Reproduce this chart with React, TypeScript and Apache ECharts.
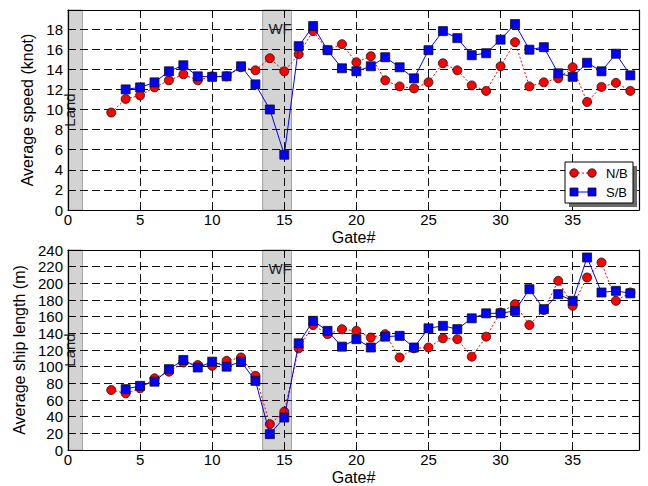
import React, { useEffect, useRef } from 'react';
import * as echarts from 'echarts';

const nbGates = [3, 4, 5, 6, 7, 8, 9, 10, 11, 12, 13, 14, 15, 16, 17, 18, 19, 20, 21, 22, 23, 24, 25, 26, 27, 28, 29, 30, 31, 32, 33, 34, 35, 36, 37, 38, 39];
const sbGates = [4, 5, 6, 7, 8, 9, 10, 11, 12, 13, 14, 15, 16, 17, 18, 19, 20, 21, 22, 23, 24, 25, 26, 27, 28, 29, 30, 31, 32, 33, 34, 35, 36, 37, 38, 39];

const nbSpeed = [9.7, 11.05, 11.4, 12.2, 12.9, 13.5, 12.9, 13.3, 13.3, 14.2, 13.9, 15.1, 13.8, 15.5, 17.8, 15.9, 16.5, 14.7, 15.3, 12.9, 12.3, 12.1, 12.7, 14.6, 13.9, 12.4, 11.85, 14.3, 16.7, 12.3, 12.7, 13.1, 14.2, 10.75, 12.25, 12.65, 11.85];
const sbSpeed = [12.0, 12.2, 12.7, 13.8, 14.4, 13.3, 13.25, 13.3, 14.3, 12.5, 10.0, 5.5, 16.3, 18.3, 15.9, 14.1, 13.8, 14.3, 15.2, 14.2, 13.1, 15.9, 17.8, 17.1, 15.4, 15.6, 16.95, 18.5, 15.95, 16.2, 13.6, 13.25, 14.65, 13.8, 15.55, 13.4];

const nbLength = [72, 68, 74, 86, 94, 105, 102, 101, 107, 111, 89, 31, 46, 122, 150, 139, 145, 143, 135, 139, 111, 122, 123, 134, 133, 112, 136, 165, 175, 150, 168, 203, 173, 207, 225, 179, 189];
const sbLength = [73, 77, 82, 97, 108, 99, 106, 100, 106, 83, 19, 39, 128, 155, 143, 124, 133, 123, 136, 137, 123, 146, 149, 145, 158, 164, 164, 167, 193, 169, 187, 179, 231, 189, 191, 188];

const seriesNames = ['N/B', 'S/B'];
const bands = [
  { name: 'Land', from: 0, to: 1 },
  { name: 'WF', from: 13.5, to: 15.5 },
];

const X_MAX = 39.6;
const FONT = 'Liberation Sans, Arial, Helvetica, sans-serif';

const pair = (xs: number[], ys: number[]) => xs.map((x, i) => [x, ys[i]]);

function bandArea() {
  return {
    silent: true,
    z: 1,
    itemStyle: { color: '#d3d3d3', borderColor: '#a0a0a0', borderWidth: 1 },
    data: bands.map((b) => [
      {
        xAxis: b.from,
        name: b.name,
        label:
          b.name === 'Land'
            ? { show: true, position: 'inside', rotate: 90, color: '#222', fontSize: 15, fontFamily: FONT, offset: [0, -6] }
            : { show: true, position: 'insideTop', distance: 11, offset: [3, 0], color: '#222', fontSize: 15, fontFamily: FONT },
      },
      { xAxis: b.to },
    ]),
  };
}

const tickStyle = { show: true, inside: true, length: 5, lineStyle: { color: '#000' } };
const lineStyleAxis = { show: true, onZero: false, lineStyle: { color: '#000', width: 1.2 } };

function xAxes(gridIndex: number) {
  return [
    {
      type: 'value',
      gridIndex,
      min: 0,
      max: X_MAX,
      interval: 5,
      z: 1.5,
      name: 'Gate#',
      nameLocation: 'middle',
      nameGap: 19,
      nameTextStyle: { color: '#000', fontSize: 16, fontFamily: FONT },
      axisLine: lineStyleAxis,
      axisTick: tickStyle,
      axisLabel: {
        color: '#000',
        fontSize: 15,
        fontFamily: FONT,
        margin: 2,
        formatter: (v: number) => (v % 5 === 0 ? String(v) : ''),
      },
      splitLine: { show: true, lineStyle: { color: '#111', type: [8, 4], width: 1 } },
    },
    {
      type: 'value',
      gridIndex,
      position: 'top',
      min: 0,
      max: X_MAX,
      interval: 5,
      z: 1.5,
      axisLine: lineStyleAxis,
      axisTick: tickStyle,
      axisLabel: { show: false },
      splitLine: { show: false },
    },
  ];
}

function yAxes(gridIndex: number, max: number, interval: number, name: string) {
  return [
    {
      type: 'value',
      gridIndex,
      min: 0,
      max,
      interval,
      z: 1.5,
      name,
      nameLocation: 'middle',
      nameGap: 26,
      nameTextStyle: { color: '#000', fontSize: 16, fontFamily: FONT },
      axisLine: lineStyleAxis,
      axisTick: tickStyle,
      axisLabel: {
        color: '#000',
        fontSize: 15,
        fontFamily: FONT,
        margin: 5,
        formatter: (v: number) => (v % interval === 0 ? String(v) : ''),
      },
      splitLine: { show: true, lineStyle: { color: '#111', type: [8, 4], width: 1 } },
    },
    {
      type: 'value',
      gridIndex,
      position: 'right',
      min: 0,
      max,
      interval,
      z: 1.5,
      axisLine: lineStyleAxis,
      axisTick: tickStyle,
      axisLabel: { show: false },
      splitLine: { show: false },
    },
  ];
}

function seriesFor(axisIndex: number, nb: number[], sb: number[]) {
  return [
    {
      name: seriesNames[0],
      type: 'line',
      xAxisIndex: axisIndex,
      yAxisIndex: axisIndex,
      data: pair(nbGates, nb),
      symbol: 'circle',
      symbolSize: 9,
      z: 2,
      itemStyle: { color: '#ff0000', borderColor: '#111', borderWidth: 0.8 },
      lineStyle: { color: '#ff0000', width: 1, type: [2, 2] },
      markArea: bandArea(),
    },
    {
      name: seriesNames[1],
      type: 'line',
      xAxisIndex: axisIndex,
      yAxisIndex: axisIndex,
      data: pair(sbGates, sb),
      symbol: 'rect',
      symbolSize: 9,
      z: 3,
      itemStyle: { color: '#0000ff', borderColor: '#111', borderWidth: 0.8 },
      lineStyle: { color: '#0000ff', width: 1 },
    },
  ];
}

function legendGraphic() {
  const lx = 565, ly = 162, w = 68, h = 41;
  const rows = [
    { y: 173, color: '#ff0000', shape: 'circle', dash: [2, 2], label: seriesNames[0] },
    { y: 192, color: '#0000ff', shape: 'rect', dash: null as any, label: seriesNames[1] },
  ];
  const els: any[] = [
    { type: 'rect', z: 50, shape: { x: lx + 4, y: ly + 4, width: w, height: h }, style: { fill: '#6a6a6a' } },
    { type: 'rect', z: 51, shape: { x: lx, y: ly, width: w, height: h }, style: { fill: '#fff', stroke: '#000', lineWidth: 1 } },
  ];
  rows.forEach((r) => {
    els.push({ type: 'line', z: 52, shape: { x1: 574, y1: r.y, x2: 592, y2: r.y }, style: { stroke: r.color, lineWidth: 1, lineDash: r.dash || undefined } });
    [574, 592].forEach((cx) => {
      if (r.shape === 'circle') {
        els.push({ type: 'circle', z: 53, shape: { cx, cy: r.y, r: 4.2 }, style: { fill: r.color, stroke: '#111', lineWidth: 0.8 } });
      } else {
        els.push({ type: 'rect', z: 53, shape: { x: cx - 4, y: r.y - 4, width: 8, height: 8 }, style: { fill: r.color, stroke: '#111', lineWidth: 0.8 } });
      }
    });
    els.push({ type: 'text', z: 53, style: { x: 606, y: r.y, text: r.label, fill: '#000', fontSize: 13, fontFamily: FONT, verticalAlign: 'middle', textAlign: 'left' } });
  });
  return els;
}

export default function App() {
  const ref = useRef<HTMLDivElement>(null);
  useEffect(() => {
    document.body.style.margin = '0';
    const chart = echarts.init(ref.current as HTMLDivElement, null, { renderer: 'svg' });
    chart.setOption({
      animation: false,
      backgroundColor: '#fff',
      textStyle: { fontFamily: FONT },
      grid: [
        { left: 68, top: 10, width: 571, height: 200 },
        { left: 68, top: 250, width: 571, height: 200 },
      ],
      xAxis: [...xAxes(0), ...xAxes(1)],
      yAxis: [
        ...yAxes(0, 19.9, 2, 'Average speed (knot)'),
        ...yAxes(1, 240, 20, 'Average ship length (m)'),
      ],
      series: [...seriesFor(0, nbSpeed, sbSpeed), ...seriesFor(2, nbLength, sbLength)],
      graphic: legendGraphic(),
    });
    return () => chart.dispose();
  }, []);
  return <div ref={ref} style={{ width: 648, height: 486, background: '#fff' }} />;
}
